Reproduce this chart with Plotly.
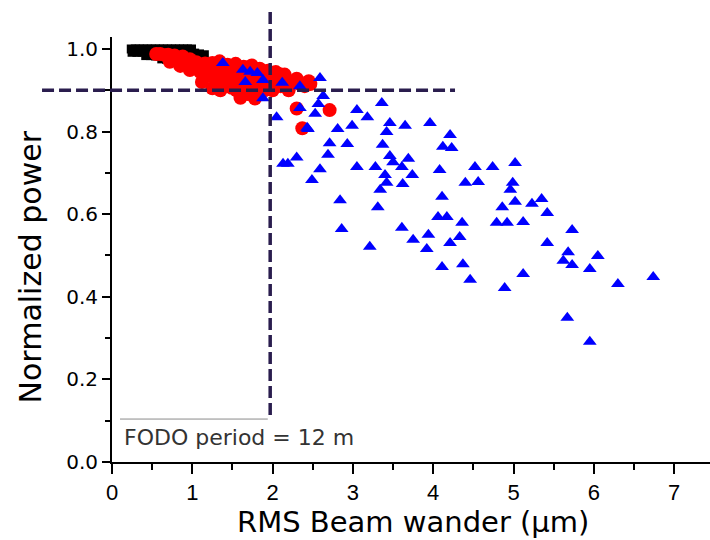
import plotly.graph_objects as go

# ---- data ----
black_x = [0.24, 0.29, 0.34, 0.39, 0.44, 0.49, 0.54, 0.59, 0.64, 0.69, 0.74, 0.79, 0.84, 0.89, 0.94, 0.99,
           0.25, 0.31, 0.37, 0.43, 0.49, 0.55, 0.61, 0.67, 0.73, 0.79, 0.85, 0.91, 0.97, 1.03, 1.09, 1.15,
           0.42, 0.48, 0.54, 0.60, 0.66, 0.72, 0.78, 0.84, 0.90, 0.96, 1.02, 1.08, 1.14,
           0.62, 0.68, 0.74, 0.80, 0.86, 0.92, 0.98, 1.04,
           0.80, 0.86, 0.92, 0.98]
black_y = [1.000, 1.000, 1.000, 1.000, 1.000, 1.000, 1.000, 1.000, 1.000, 1.000, 1.000, 1.000, 1.000, 1.000, 1.000, 1.000,
           0.992, 0.992, 0.992, 0.992, 0.992, 0.992, 0.992, 0.992, 0.992, 0.992, 0.992, 0.992, 0.992, 0.990, 0.988, 0.986,
           0.984, 0.984, 0.983, 0.983, 0.982, 0.982, 0.981, 0.981, 0.980, 0.980, 0.979, 0.978, 0.977,
           0.976, 0.975, 0.975, 0.974, 0.973, 0.972, 0.971, 0.970,
           0.967, 0.966, 0.965, 0.964]

red_x = [0.55, 0.66, 0.78, 0.88, 0.97, 1.16, 1.25, 1.34, 1.44, 1.54, 1.64, 1.74, 1.84, 1.94, 2.04,
         0.72, 0.85, 0.97, 1.10, 1.20, 1.30, 1.39, 1.49, 1.59, 1.69, 1.79, 1.89, 1.99, 2.12, 2.24, 2.34,
         1.03, 1.28, 1.53, 1.72, 1.87, 2.09, 1.66, 1.41, 1.12, 1.25, 1.35, 1.60, 1.78,
         0.60, 0.70, 0.80, 0.90, 1.00, 1.05, 1.10, 1.20, 1.20, 1.30, 1.30, 1.40, 1.40, 1.50, 1.50, 1.55,
         1.60, 1.65, 1.70, 1.70, 1.75, 1.80, 1.85, 1.90, 1.95, 2.00, 2.05, 2.10, 2.15, 2.20, 2.30, 2.40, 2.45,
         2.30, 2.71, 2.37, 2.27, 2.47]
red_y = [0.988, 0.985, 0.984, 0.982, 0.975, 0.965, 0.966, 0.970, 0.962, 0.964, 0.957, 0.960, 0.952, 0.947, 0.944,
         0.969, 0.959, 0.949, 0.944, 0.935, 0.925, 0.915, 0.906, 0.896, 0.891, 0.901, 0.910, 0.915, 0.925, 0.920, 0.915,
         0.964, 0.949, 0.935, 0.925, 0.930, 0.939, 0.910, 0.939, 0.920, 0.905, 0.900, 0.882, 0.880,
         0.988, 0.986, 0.975, 0.970, 0.960, 0.968, 0.955, 0.950, 0.962, 0.940, 0.955, 0.925, 0.950, 0.920, 0.945, 0.900,
         0.938, 0.925, 0.905, 0.942, 0.890, 0.920, 0.938, 0.900, 0.930, 0.900, 0.930, 0.910, 0.938, 0.900, 0.928, 0.910, 0.922,
         0.856, 0.852, 0.808, 0.920, 0.915]

blue_x = [1.38, 1.63, 1.72, 1.81, 1.88, 1.66, 2.12, 2.34, 2.59, 1.88, 2.63, 2.34, 2.57, 2.53, 2.05, 2.43,
          3.36, 3.05, 3.18, 3.46, 3.65, 3.96, 2.44, 2.81, 2.99, 3.42, 4.21, 2.71, 2.93, 3.37, 4.12, 4.23,
          2.69, 2.30, 2.13, 2.19, 3.46, 3.69, 3.50, 2.59, 3.05, 3.28, 3.61, 3.40, 3.74, 4.08, 4.52, 4.74,
          5.02, 2.49, 3.42, 3.62, 4.40, 4.56, 4.99, 4.96, 3.34, 4.11, 5.02, 4.86, 5.23, 5.35, 5.42, 2.84,
          3.31, 4.06, 4.17, 4.36, 4.79, 4.92, 5.12, 2.86, 3.61, 3.75, 3.94, 4.21, 4.33, 3.21, 3.92, 5.73,
          5.42, 5.68, 5.62, 5.73, 6.05, 5.95, 4.11, 4.37, 4.46, 5.12, 4.89, 6.30, 6.74, 5.67, 5.95]
blue_y = [0.966, 0.950, 0.945, 0.942, 0.925, 0.920, 0.918, 0.910, 0.930, 0.881, 0.886, 0.857, 0.867, 0.843, 0.835, 0.809,
          0.869, 0.852, 0.835, 0.821, 0.814, 0.821, 0.806, 0.806, 0.814, 0.799, 0.792, 0.772, 0.770, 0.768, 0.763, 0.760,
          0.744, 0.737, 0.722, 0.722, 0.741, 0.734, 0.726, 0.709, 0.714, 0.714, 0.714, 0.695, 0.695, 0.707, 0.714, 0.714,
          0.724, 0.683, 0.676, 0.673, 0.676, 0.678, 0.676, 0.659, 0.659, 0.642, 0.630, 0.617, 0.625, 0.637, 0.603, 0.634,
          0.617, 0.593, 0.593, 0.579, 0.579, 0.579, 0.581, 0.564, 0.567, 0.538, 0.550, 0.530, 0.545, 0.521, 0.516, 0.562,
          0.530, 0.508, 0.487, 0.477, 0.499, 0.467, 0.472, 0.479, 0.441, 0.455, 0.421, 0.431, 0.448, 0.349, 0.291]

x_ticks = [0, 1, 2, 3, 4, 5, 6, 7]
y_ticks = [0.0, 0.2, 0.4, 0.6, 0.8, 1.0]
x_title = "RMS Beam wander (\u03bcm)"
y_title = "Normalized power"
note_text = "FODO period = 12 m"
threshold_power = 0.9
threshold_wander = 1.97

fig = go.Figure()
fig.add_trace(go.Scatter(x=black_x, y=black_y, mode="markers",
                         marker=dict(symbol="square", size=9, color="black", line=dict(width=0))))
fig.add_trace(go.Scatter(x=red_x, y=red_y, mode="markers",
                         marker=dict(symbol="circle", size=14, color="#ff0000", line=dict(width=0))))
fig.add_trace(go.Scatter(x=blue_x, y=blue_y, mode="markers",
                         marker=dict(symbol="triangle-up", size=12, color="#0000ff", line=dict(width=0))))

dash_color = "#2a1d4e"
# horizontal threshold line (extends left of the axis)
fig.add_shape(type="line", xref="paper", yref="y", x0=-0.117, x1=0.5736,
              y0=threshold_power, y1=threshold_power,
              line=dict(color=dash_color, width=3.5, dash="12px,5px"))
# vertical threshold line (extends above the plot)
fig.add_shape(type="line", xref="x", yref="paper", x0=threshold_wander, x1=threshold_wander,
              y0=0.1106, y1=1.068,
              line=dict(color=dash_color, width=3.5, dash="12px,5px"))
# thin grey line above the note
fig.add_shape(type="line", xref="x", yref="y", x0=0.1, x1=1.94, y0=0.104, y1=0.104,
              line=dict(color="#8a8a8a", width=1))

fig.add_annotation(text=note_text, xref="paper", yref="paper", x=0.0167, y=0.0565,
                   xanchor="left", yanchor="middle", showarrow=False,
                   font=dict(family="DejaVu Sans", size=22, color="#333333"))
fig.add_annotation(text=x_title, xref="paper", yref="paper", x=0.503, y=-0.1835,
                   xanchor="center", yanchor="bottom", showarrow=False, borderpad=0,
                   font=dict(family="DejaVu Sans", size=29, color="black"))
fig.add_annotation(text=y_title, xref="paper", yref="paper", x=-0.137, y=0.458,
                   xanchor="center", yanchor="middle", textangle=-90, showarrow=False,
                   font=dict(family="DejaVu Sans", size=30, color="black"))

fig.update_layout(
    width=710, height=540,
    margin=dict(l=112, r=0, t=37, b=78),
    paper_bgcolor="white", plot_bgcolor="white",
    showlegend=False,
    xaxis=dict(range=[0, 7.447], tickvals=x_ticks, ticks="outside", ticklen=10, tickwidth=1.5,
               tickcolor="black", showline=True, linewidth=2, linecolor="black",
               showgrid=False, zeroline=False,
               minor=dict(ticks="outside", ticklen=6, dtick=0.5, tickwidth=1.5, tickcolor="black", showgrid=False),
               tickfont=dict(family="Liberation Sans", size=22, color="black")),
    yaxis=dict(range=[0, 1.029], tickvals=y_ticks, tickformat=".1f", ticks="outside", ticklen=8, tickwidth=1.5,
               tickcolor="black", showline=True, linewidth=2, linecolor="black",
               showgrid=False, zeroline=False,
               minor=dict(ticks="outside", ticklen=5, dtick=0.1, tickwidth=1.5, tickcolor="black", showgrid=False),
               tickfont=dict(family="DejaVu Sans", size=20, color="black")),
)

fig.write_html("out.html")
